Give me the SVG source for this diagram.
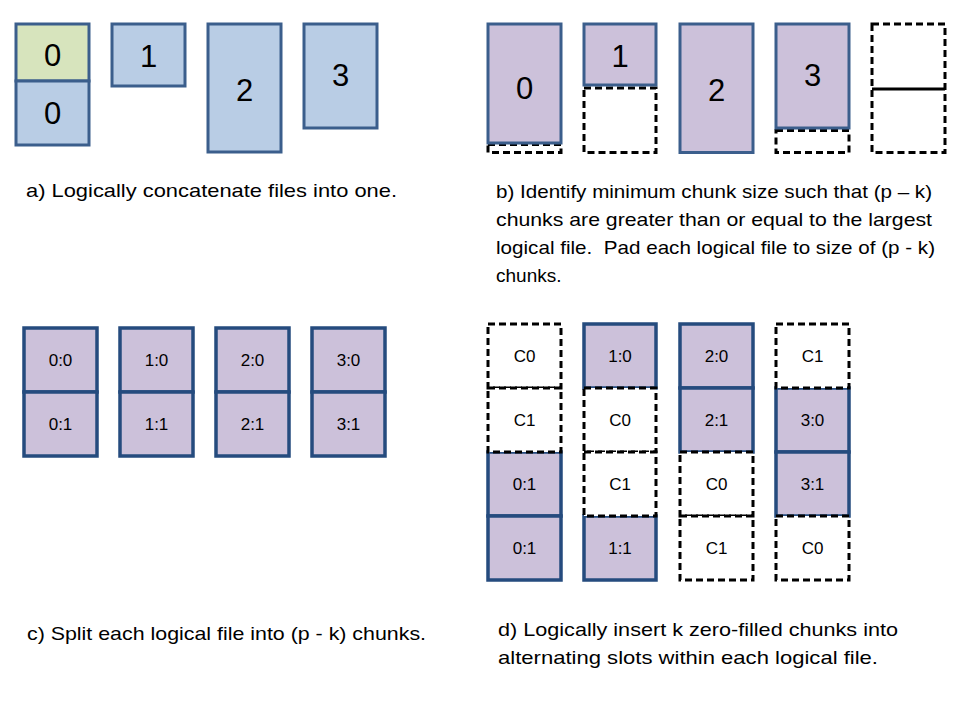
<svg xmlns="http://www.w3.org/2000/svg" width="960" height="720" viewBox="0 0 960 720">
<style>
.blue{fill:#B9CDE5;stroke:#3B5E8C;stroke-width:3}
.green{fill:#D7E4BD;stroke:#3B5E8C;stroke-width:3}
.pur{fill:#CCC1DA;stroke:#3B5E8C;stroke-width:3}
.purc{fill:#CCC1DA;stroke:#254B7E;stroke-width:3.5}
.dash{fill:#FFFFFF;stroke:#000000;stroke-width:3;stroke-dasharray:7 4}
.big{font-family:"Liberation Sans",Arial,sans-serif;font-size:31px;fill:#000;text-anchor:middle}
.cell{font-family:"Liberation Sans",Arial,sans-serif;font-size:17px;fill:#000;text-anchor:middle}
.cap{font-family:"Liberation Sans",Arial,sans-serif;font-size:19px;fill:#000}
</style>
<rect width="960" height="720" fill="#FFFFFF"/>

<g id="panel-a">
  <g id="a-file0">
    <rect class="green" x="16" y="24" width="73" height="57"/>
    <rect class="blue" x="16" y="81" width="73" height="64"/>
    <text class="big" x="52.5" y="66">0</text>
    <text class="big" x="52.5" y="124">0</text>
  </g>
  <g id="a-file1">
    <rect class="blue" x="112" y="24" width="73" height="62"/>
    <text class="big" x="148.5" y="67">1</text>
  </g>
  <g id="a-file2">
    <rect class="blue" x="208" y="24" width="73" height="128"/>
    <text class="big" x="244.5" y="101">2</text>
  </g>
  <g id="a-file3">
    <rect class="blue" x="304" y="24" width="73" height="104"/>
    <text class="big" x="340.5" y="86">3</text>
  </g>
  <text id="a-caption" class="cap" x="26" y="197" textLength="371" lengthAdjust="spacingAndGlyphs">a) Logically concatenate files into one.</text>
</g>

<g id="panel-b">
  <g id="b-file0">
    <rect class="dash" x="488" y="144.5" width="73" height="8"/>
    <rect class="pur" x="488" y="24" width="73" height="119"/>
    <text class="big" x="524.5" y="99">0</text>
  </g>
  <g id="b-file1">
    <rect class="dash" x="584" y="88" width="72" height="64.5"/>
    <rect class="pur" x="584" y="24" width="72" height="61"/>
    <text class="big" x="620" y="67">1</text>
  </g>
  <g id="b-file2">
    <rect class="pur" x="680" y="24" width="73" height="128.5"/>
    <text class="big" x="716.5" y="101">2</text>
  </g>
  <g id="b-file3">
    <rect class="dash" x="776" y="130.5" width="73" height="22"/>
    <rect class="pur" x="776" y="24" width="73" height="104"/>
    <text class="big" x="812.5" y="86">3</text>
  </g>
  <g id="b-pad">
    <rect class="dash" x="872" y="24" width="73" height="128.5"/>
    <line x1="872" y1="89" x2="945" y2="89" stroke="#000" stroke-width="3"/>
  </g>
  <g id="b-caption" class="cap">
    <text x="496" y="198" textLength="436" lengthAdjust="spacingAndGlyphs">b) Identify minimum chunk size such that (p – k)</text>
    <text x="496" y="226" textLength="436" lengthAdjust="spacingAndGlyphs">chunks are greater than or equal to the largest</text>
    <text x="496" y="254" textLength="439" lengthAdjust="spacingAndGlyphs" xml:space="preserve">logical file.  Pad each logical file to size of (p - k)</text>
    <text x="496" y="282">chunks.</text>
  </g>
</g>

<g id="panel-c">
  <g id="c-file0">
    <rect class="purc" x="24" y="328" width="73" height="64"/>
    <rect class="purc" x="24" y="392" width="73" height="64"/>
    <text class="cell" x="60.5" y="366">0:0</text>
    <text class="cell" x="60.5" y="430">0:1</text>
  </g>
  <g id="c-file1">
    <rect class="purc" x="120" y="328" width="73" height="64"/>
    <rect class="purc" x="120" y="392" width="73" height="64"/>
    <text class="cell" x="156.5" y="366">1:0</text>
    <text class="cell" x="156.5" y="430">1:1</text>
  </g>
  <g id="c-file2">
    <rect class="purc" x="216" y="328" width="73" height="64"/>
    <rect class="purc" x="216" y="392" width="73" height="64"/>
    <text class="cell" x="252.5" y="366">2:0</text>
    <text class="cell" x="252.5" y="430">2:1</text>
  </g>
  <g id="c-file3">
    <rect class="purc" x="312" y="328" width="73" height="64"/>
    <rect class="purc" x="312" y="392" width="73" height="64"/>
    <text class="cell" x="348.5" y="366">3:0</text>
    <text class="cell" x="348.5" y="430">3:1</text>
  </g>
  <text id="c-caption" class="cap" x="27" y="640" textLength="399" lengthAdjust="spacingAndGlyphs">c) Split each logical file into (p - k) chunks.</text>
</g>

<g id="panel-d">
  <g id="d-file0">
    <rect class="purc" x="488" y="452" width="73" height="64"/>
    <rect class="purc" x="488" y="516" width="73" height="64"/>
    <rect class="dash" x="488" y="324" width="73" height="64"/>
    <rect class="dash" x="488" y="388" width="73" height="64"/>
    <text class="cell" x="524.5" y="362">C0</text>
    <text class="cell" x="524.5" y="426">C1</text>
    <text class="cell" x="524.5" y="490">0:1</text>
    <text class="cell" x="524.5" y="554">0:1</text>
  </g>
  <g id="d-file1">
    <rect class="purc" x="584" y="324" width="72" height="64"/>
    <rect class="purc" x="584" y="516" width="72" height="64"/>
    <rect class="dash" x="584" y="388" width="72" height="64"/>
    <rect class="dash" x="584" y="452" width="72" height="64"/>
    <text class="cell" x="620" y="362">1:0</text>
    <text class="cell" x="620" y="426">C0</text>
    <text class="cell" x="620" y="490">C1</text>
    <text class="cell" x="620" y="554">1:1</text>
  </g>
  <g id="d-file2">
    <rect class="purc" x="680" y="324" width="73" height="64"/>
    <rect class="purc" x="680" y="388" width="73" height="64"/>
    <rect class="dash" x="680" y="452" width="73" height="64"/>
    <rect class="dash" x="680" y="516" width="73" height="64"/>
    <text class="cell" x="716.5" y="362">2:0</text>
    <text class="cell" x="716.5" y="426">2:1</text>
    <text class="cell" x="716.5" y="490">C0</text>
    <text class="cell" x="716.5" y="554">C1</text>
  </g>
  <g id="d-file3">
    <rect class="purc" x="776" y="388" width="73" height="64"/>
    <rect class="purc" x="776" y="452" width="73" height="64"/>
    <rect class="dash" x="776" y="324" width="73" height="64"/>
    <rect class="dash" x="776" y="516" width="73" height="64"/>
    <text class="cell" x="812.5" y="362">C1</text>
    <text class="cell" x="812.5" y="426">3:0</text>
    <text class="cell" x="812.5" y="490">3:1</text>
    <text class="cell" x="812.5" y="554">C0</text>
  </g>
  <g id="d-caption" class="cap">
    <text x="498" y="636" textLength="400" lengthAdjust="spacingAndGlyphs">d) Logically insert k zero-filled chunks into</text>
    <text x="498" y="664" textLength="380" lengthAdjust="spacingAndGlyphs">alternating slots within each logical file.</text>
  </g>
</g>

<g id="connectors"></g>
</svg>
